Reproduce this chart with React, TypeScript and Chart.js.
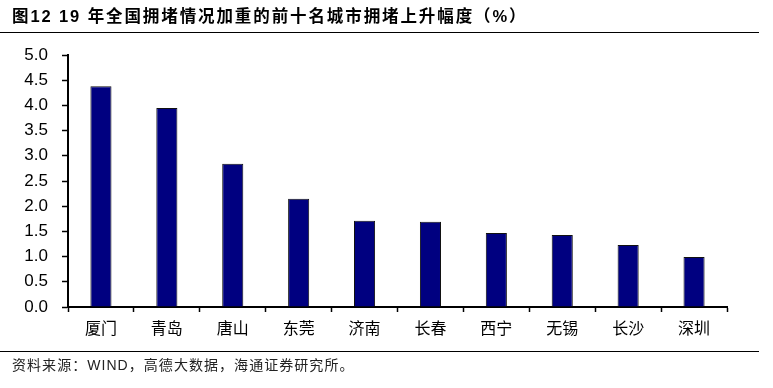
import React, { useEffect, useRef } from "react";
import { Chart, registerables } from "chart.js";

Chart.register(...registerables);

const cities = ["厦门", "青岛", "唐山", "东莞", "济南", "长春", "西宁", "无锡", "长沙", "深圳"];
const increase = [4.38, 3.95, 2.84, 2.15, 1.71, 1.69, 1.47, 1.43, 1.23, 0.99];
const yMin = 0;
const yMax = 5;
const yStep = 0.5;

const titleText = "图12 19 年全国拥堵情况加重的前十名城市拥堵上升幅度（%）";
const sourceText = "资料来源：WIND，高德大数据，海通证券研究所。";

export default function App() {
  const ref = useRef<HTMLCanvasElement | null>(null);

  useEffect(() => {
    if (!ref.current) return;
    const chart = new Chart(ref.current, {
      type: "bar",
      data: {
        labels: cities,
        datasets: [
          {
            data: increase,
            backgroundColor: "#000080",
            borderColor: "#111111",
            borderWidth: 1,
            categoryPercentage: 1,
            barPercentage: 0.32,
          },
        ],
      },
      options: {
        animation: false,
        responsive: false,
        maintainAspectRatio: false,
        layout: { padding: { top: 55, right: 46, bottom: 41, left: 0 } },
        plugins: { legend: { display: false }, tooltip: { enabled: false } },
        scales: {
          x: {
            grid: {
              display: true,
              drawOnChartArea: false,
              drawTicks: true,
              tickLength: 5,
              tickWidth: 1.5,
              tickColor: "#000",
              offset: true,
            },
            border: { display: true, color: "#000", width: 2 },
            ticks: {
              color: "#000",
              font: { family: "'Noto Sans CJK SC'", size: 16 },
              padding: 6,
              maxRotation: 0,
            },
            afterFit: (scale: any) => {
              scale.height = 40;
            },
          },
          y: {
            min: yMin,
            max: yMax,
            grid: {
              display: true,
              drawOnChartArea: false,
              drawTicks: true,
              tickLength: 6,
              tickWidth: 1.5,
              tickColor: "#000",
            },
            border: { display: true, color: "#000", width: 2 },
            ticks: {
              stepSize: yStep,
              color: "#000",
              font: { family: "'Liberation Sans', Arial", size: 17 },
              padding: 14,
              callback: (v: any) => Number(v).toFixed(1),
            },
            afterFit: (scale: any) => {
              scale.width = 68;
            },
          },
        },
      },
    });
    return () => chart.destroy();
  }, []);

  return (
    <div style={{ position: "absolute", left: 0, top: 0, width: 773, height: 388, background: "#fff" }}>
      <canvas ref={ref} width={773} height={388} style={{ position: "absolute", left: 0, top: 0, width: 773, height: 388 }} />
      <div
        style={{
          position: "absolute",
          left: 12,
          top: 6,
          lineHeight: "20px",
          fontSize: 16.5,
          fontWeight: "bold",
          letterSpacing: "1.9px",
          whiteSpace: "nowrap",
          fontFamily: "'Liberation Sans', 'Noto Sans CJK SC', sans-serif",
          color: "#000",
        }}
      >
        {titleText}
      </div>
      <div style={{ position: "absolute", left: 0, top: 32, width: 759, height: 0, borderTop: "1.5px solid #000" }} />
      <div style={{ position: "absolute", left: 0, top: 351, width: 759, height: 0, borderTop: "1.5px solid #000" }} />
      <div
        style={{
          position: "absolute",
          left: 12,
          top: 356,
          lineHeight: "18px",
          fontSize: 14,
          letterSpacing: "1.05px",
          whiteSpace: "nowrap",
          fontFamily: "'Liberation Sans', 'Noto Sans CJK SC', sans-serif",
          color: "#222",
        }}
      >
        {sourceText}
      </div>
    </div>
  );
}
